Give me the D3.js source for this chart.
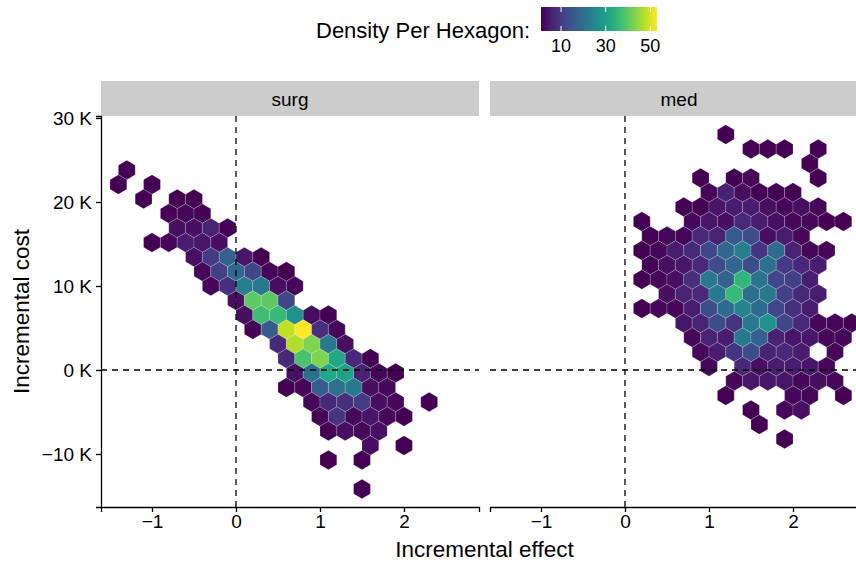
<!DOCTYPE html>
<html>
<head>
<meta charset="utf-8">
<script src="https://cdn.jsdelivr.net/npm/d3@7"></script>
<style>
  body { margin: 0; background: #fff; }
  svg { display: block; }
  text { font-family: "Liberation Sans", Arial, Helvetica, sans-serif; fill: #000; }
</style>
</head>
<body>
<svg id="chart"></svg>
<script>
// facets, ticks and colour range
const facets = ['surg', 'med'];
const xTicks = [-1, 0, 1, 2];
const yTicks = [-10000, 0, 10000, 20000, 30000];
const legendTicks = [10, 30, 50];
const countRange = [1, 53];
const binSize = [0.2, 1726]; // hex width in effect, row spacing in cost

// [effect, cost, count] per hexagon
const surgHex = [
  [-1.3, 23810, 1],
  [-1.4, 22083, 1], [-1.0, 22083, 1],
  [-1.1, 20357, 1], [-0.7, 20357, 1], [-0.5, 20357, 1],
  [-0.8, 18631, 1], [-0.6, 18631, 2], [-0.4, 18631, 1],
  [-0.7, 16905, 3], [-0.5, 16905, 3], [-0.3, 16905, 6], [-0.1, 16905, 1],
  [-1.0, 15179, 1], [-0.8, 15179, 2], [-0.6, 15179, 5], [-0.4, 15179, 4], [-0.2, 15179, 3],
  [-0.5, 13452, 3], [-0.3, 13452, 10], [-0.1, 13452, 17], [0.1, 13452, 4], [0.3, 13452, 1],
  [-0.4, 11726, 2], [-0.2, 11726, 11], [0.0, 11726, 18], [0.2, 11726, 12], [0.4, 11726, 2], [0.6, 11726, 1],
  [-0.3, 10000, 2], [-0.1, 10000, 8], [0.1, 10000, 23], [0.3, 10000, 22], [0.5, 10000, 3], [0.7, 10000, 2],
  [0.0, 8274, 3], [0.2, 8274, 40], [0.4, 8274, 40], [0.6, 8274, 12],
  [0.1, 6548, 3], [0.3, 6548, 37], [0.5, 6548, 36], [0.7, 6548, 27], [0.9, 6548, 3], [1.1, 6548, 1],
  [0.2, 4821, 1], [0.4, 4821, 16], [0.6, 4821, 48], [0.8, 4821, 53], [1.0, 4821, 8], [1.2, 4821, 2],
  [0.5, 3095, 7], [0.7, 3095, 47], [0.9, 3095, 43], [1.1, 3095, 22], [1.3, 3095, 3],
  [0.6, 1369, 7], [0.8, 1369, 38], [1.0, 1369, 43], [1.2, 1369, 32], [1.4, 1369, 7], [1.6, 1369, 1],
  [0.7, -357, 3], [0.9, -357, 20], [1.1, -357, 32], [1.3, -357, 31], [1.5, -357, 6], [1.7, -357, 2], [1.9, -357, 1],
  [0.6, -2083, 1], [0.8, -2083, 2], [1.0, -2083, 16], [1.2, -2083, 20], [1.4, -2083, 22], [1.6, -2083, 3], [1.8, -2083, 2],
  [0.9, -3810, 2], [1.1, -3810, 7], [1.3, -3810, 8], [1.5, -3810, 10], [1.7, -3810, 3], [1.9, -3810, 2], [2.3, -3810, 1],
  [1.0, -5536, 1], [1.2, -5536, 9], [1.4, -5536, 2], [1.6, -5536, 4], [1.8, -5536, 2], [2.0, -5536, 1],
  [1.1, -7262, 1], [1.3, -7262, 3], [1.5, -7262, 2], [1.7, -7262, 3],
  [1.6, -8988, 3], [2.0, -8988, 1],
  [1.1, -10714, 1], [1.5, -10714, 1],
  [1.5, -14167, 1]
];

const medHex = [
  [1.2, 28036, 1],
  [1.5, 26310, 1], [1.7, 26310, 1], [1.9, 26310, 1], [2.3, 26310, 1],
  [2.2, 24583, 1],
  [0.9, 22857, 1], [1.3, 22857, 1], [1.5, 22857, 2], [2.3, 22857, 1],
  [1.0, 21131, 2], [1.2, 21131, 6], [1.4, 21131, 3], [1.6, 21131, 1], [1.8, 21131, 1], [2.0, 21131, 1],
  [0.7, 19405, 1], [0.9, 19405, 1], [1.1, 19405, 4], [1.3, 19405, 5], [1.5, 19405, 5], [1.7, 19405, 3], [1.9, 19405, 2], [2.1, 19405, 3], [2.3, 19405, 2],
  [0.2, 17679, 1], [0.8, 17679, 2], [1.0, 17679, 4], [1.2, 17679, 3], [1.4, 17679, 7], [1.6, 17679, 5], [1.8, 17679, 3], [2.0, 17679, 2], [2.2, 17679, 2], [2.4, 17679, 1], [2.6, 17679, 1],
  [0.3, 15952, 1], [0.5, 15952, 2], [0.7, 15952, 2], [0.9, 15952, 7], [1.1, 15952, 6], [1.3, 15952, 16], [1.5, 15952, 13], [1.7, 15952, 3], [1.9, 15952, 5], [2.1, 15952, 2],
  [0.2, 14226, 1], [0.4, 14226, 2], [0.6, 14226, 5], [0.8, 14226, 7], [1.0, 14226, 12], [1.2, 14226, 18], [1.4, 14226, 23], [1.6, 14226, 9], [1.8, 14226, 19], [2.0, 14226, 6], [2.2, 14226, 2], [2.4, 14226, 2],
  [0.3, 12500, 1], [0.5, 12500, 3], [0.7, 12500, 4], [0.9, 12500, 7], [1.1, 12500, 13], [1.3, 12500, 18], [1.5, 12500, 13], [1.7, 12500, 20], [1.9, 12500, 10], [2.1, 12500, 7], [2.3, 12500, 5],
  [0.2, 10774, 1], [0.4, 10774, 2], [0.6, 10774, 3], [0.8, 10774, 8], [1.0, 10774, 22], [1.2, 10774, 17], [1.4, 10774, 35], [1.6, 10774, 21], [1.8, 10774, 12], [2.0, 10774, 11], [2.2, 10774, 5],
  [0.5, 9048, 3], [0.7, 9048, 6], [0.9, 9048, 7], [1.1, 9048, 22], [1.3, 9048, 36], [1.5, 9048, 20], [1.7, 9048, 22], [1.9, 9048, 11], [2.1, 9048, 7], [2.3, 9048, 5],
  [0.2, 7321, 1], [0.4, 7321, 2], [0.6, 7321, 2], [0.8, 7321, 5], [1.0, 7321, 13], [1.2, 7321, 19], [1.4, 7321, 24], [1.6, 7321, 19], [1.8, 7321, 12], [2.0, 7321, 8], [2.2, 7321, 5],
  [0.7, 5595, 4], [0.9, 5595, 6], [1.1, 5595, 13], [1.3, 5595, 9], [1.5, 5595, 22], [1.7, 5595, 27], [1.9, 5595, 12], [2.1, 5595, 7], [2.3, 5595, 2], [2.5, 5595, 2], [2.7, 5595, 1],
  [0.8, 3869, 2], [1.0, 3869, 6], [1.2, 3869, 5], [1.4, 3869, 22], [1.6, 3869, 17], [1.8, 3869, 6], [2.0, 3869, 4], [2.2, 3869, 4], [2.4, 3869, 2], [2.6, 3869, 2],
  [0.9, 2143, 2], [1.1, 2143, 5], [1.3, 2143, 9], [1.5, 2143, 13], [1.7, 2143, 6], [1.9, 2143, 7], [2.1, 2143, 5], [2.5, 2143, 2],
  [1.0, 417, 2], [1.4, 417, 7], [1.6, 417, 3], [1.8, 417, 5], [2.0, 417, 5], [2.2, 417, 4], [2.4, 417, 2],
  [1.3, -1310, 2], [1.5, -1310, 4], [1.7, -1310, 4], [1.9, -1310, 4], [2.1, -1310, 2], [2.3, -1310, 3], [2.5, -1310, 2],
  [1.2, -3036, 1], [2.0, -3036, 2], [2.2, -3036, 2], [2.6, -3036, 1],
  [1.5, -4762, 1], [1.9, -4762, 2], [2.1, -4762, 3],
  [1.6, -6488, 1],
  [1.9, -8214, 1]
];

const hexByFacet = { surg: surgHex, med: medHex };

const W = 856, H = 563;
const panelW = 378, panelH = 391;
const panelTop = 116, stripH = 35;
const panelLeft = [101, 490];

const svg = d3.select('#chart')
  .attr('width', W)
  .attr('height', H);

const x = d3.scaleLinear().domain([-1.607, 2.893]).range([0, panelW]);
const y = d3.scaleLinear().domain([-16310, 30238]).range([panelH, 0]);
const color = d3.scaleSequential(d3.interpolateViridis).domain(countRange);

const minus = s => String(s).replace('-', '\u2212');

function hexPath(d) {
  let cx = x(d[0]), cy = y(d[1]);
  let hw = x(d[0] + binSize[0] / 2) - cx;
  let r = y(d[1]) - y(d[1] + binSize[1] * 2 / 3);
  return 'M' + [
    [cx, cy - r], [cx + hw, cy - r / 2], [cx + hw, cy + r / 2],
    [cx, cy + r], [cx - hw, cy + r / 2], [cx - hw, cy - r / 2]
  ].map(p => p.join(',')).join('L') + 'Z';
}

svg.append('clipPath').attr('id', 'clip')
  .append('rect').attr('width', panelW).attr('height', panelH);

facets.forEach((f, i) => {
  let g = svg.append('g').attr('transform', `translate(${panelLeft[i]},${panelTop})`);

  // strip
  g.append('rect')
    .attr('y', -stripH)
    .attr('width', panelW)
    .attr('height', stripH)
    .attr('fill', '#cccccc');
  g.append('text')
    .attr('x', panelW / 2)
    .attr('y', -stripH / 2 + 7)
    .attr('text-anchor', 'middle')
    .style('font-size', '19px')
    .text(f);

  let plot = g.append('g').attr('clip-path', 'url(#clip)');

  plot.selectAll('path.hex')
    .data(hexByFacet[f])
    .enter()
    .append('path')
    .attr('class', 'hex')
    .attr('d', hexPath)
    .attr('fill', d => color(d[2]))
    .attr('stroke', 'rgba(255,255,255,0.3)')
    .attr('stroke-width', 0.6);

  // reference lines
  plot.append('line')
    .attr('x1', x(0)).attr('x2', x(0))
    .attr('y1', 0).attr('y2', panelH)
    .attr('stroke', '#000').attr('stroke-width', 1.3)
    .attr('stroke-dasharray', '6,5');
  plot.append('line')
    .attr('x1', 0).attr('x2', panelW)
    .attr('y1', y(0)).attr('y2', y(0))
    .attr('stroke', '#000').attr('stroke-width', 1.3)
    .attr('stroke-dasharray', '6,5');

  // x axis
  let xAxis = g.append('g')
    .attr('transform', `translate(0,${panelH})`)
    .call(d3.axisBottom(x).tickValues(xTicks).tickSize(5).tickPadding(3).tickFormat(minus));
  xAxis.select('.domain').attr('stroke-width', 1.3);
  xAxis.selectAll('.tick line').attr('stroke-width', 1.3);
  xAxis.selectAll('text').style('font-size', '19px').attr('fill', '#000');

  if (i === 0) {
    let yAxis = g.append('g')
      .call(d3.axisLeft(y).tickValues(yTicks).tickSize(5).tickPadding(4)
        .tickFormat(d => minus(d / 1000) + ' K'));
    yAxis.select('.domain').attr('stroke-width', 1.3);
    yAxis.selectAll('.tick line').attr('stroke-width', 1.3);
    yAxis.selectAll('text').style('font-size', '19px').attr('fill', '#000');
  }
  g.selectAll('.domain').attr('d', function () {
    return d3.select(this).attr('d').replace(/V6|V-6|H-6/g, m => m[0] + '0');
  });
});

// axis titles
svg.append('text')
  .attr('x', panelLeft[0] + (panelLeft[1] + panelW - panelLeft[0]) / 2)
  .attr('y', 557)
  .attr('text-anchor', 'middle')
  .style('font-size', '22.5px')
  .text('Incremental effect');

svg.append('text')
  .attr('transform', `translate(29,${panelTop + panelH / 2}) rotate(-90)`)
  .attr('text-anchor', 'middle')
  .style('font-size', '22.5px')
  .text('Incremental cost');

// legend
let lx = d3.scaleLinear().domain(countRange).range([541, 657]);
let grad = svg.append('defs').append('linearGradient').attr('id', 'grad');
d3.range(0, 1.0001, 0.1).forEach(t => {
  grad.append('stop').attr('offset', t).attr('stop-color', d3.interpolateViridis(t));
});
svg.append('rect')
  .attr('x', lx(countRange[0])).attr('y', 7)
  .attr('width', lx(countRange[1]) - lx(countRange[0]))
  .attr('height', 24)
  .attr('fill', 'url(#grad)');
legendTicks.forEach(v => {
  [[7, 12], [26, 31]].forEach(([a, b]) => {
    svg.append('line')
      .attr('x1', lx(v)).attr('x2', lx(v))
      .attr('y1', a).attr('y2', b)
      .attr('stroke', '#fff').attr('stroke-width', 1);
  });
  svg.append('text')
    .attr('x', lx(v)).attr('y', 52)
    .attr('text-anchor', 'middle')
    .style('font-size', '18px')
    .text(v);
});
svg.append('text')
  .attr('x', 530).attr('y', 38)
  .attr('text-anchor', 'end')
  .style('font-size', '22px')
  .text('Density Per Hexagon:');
</script>
</body>
</html>
